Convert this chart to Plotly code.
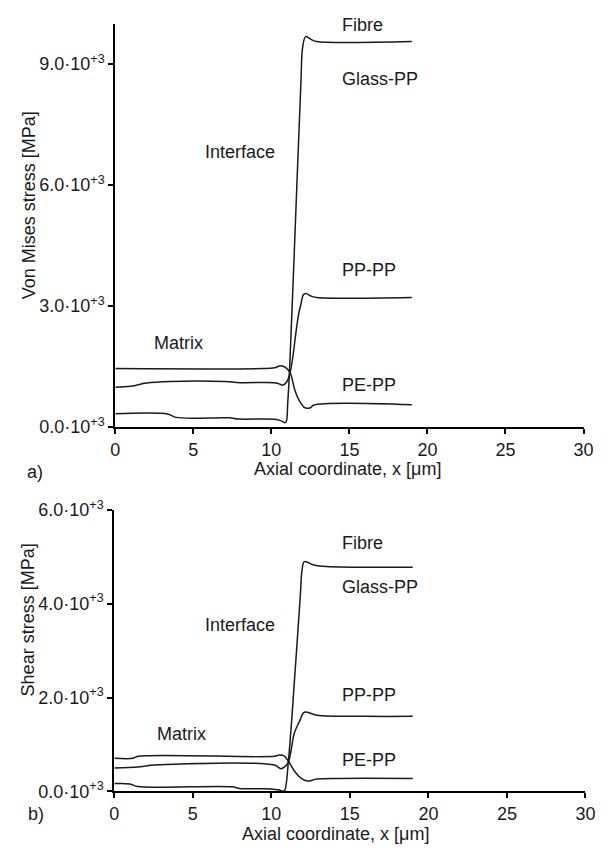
import plotly.graph_objects as go

W, H = 615, 857

# ---------------- data: (a) Von Mises stress ----------------
x_glass_a = [0, 3.4, 3.9, 7.3, 7.9, 10.2, 10.6, 10.85, 10.95, 11.05, 11.17, 11.58, 11.9, 12.0, 12.2, 12.6, 12.9, 19]
y_glass_a = [330, 320, 240, 230, 200, 195, 160, 110, 130, 600, 1430, 5450, 8600, 9400, 9680, 9600, 9560, 9560]

x_pp_a = [0, 1.0, 2.0, 3.5, 7.0, 8.0, 10.2, 10.5, 10.75, 11.0, 11.2, 11.4, 11.56, 11.75, 11.9, 12.05, 12.2, 12.6, 12.9, 19]
y_pp_a = [990, 1010, 1090, 1130, 1130, 1100, 1100, 1070, 1040, 1130, 1350, 1800, 2300, 2800, 3050, 3280, 3310, 3240, 3210, 3210]

x_pe_a = [0, 9.5, 10.2, 10.6, 10.9, 11.2, 11.48, 11.7, 11.9, 12.1, 12.3, 12.5, 12.73, 19]
y_pe_a = [1450, 1450, 1470, 1520, 1480, 1350, 950, 720, 587, 490, 466, 480, 547, 555]

# ---------------- data: (b) Shear stress ----------------
x_glass_b = [0, 1.0, 1.5, 7.5, 8.0, 10.0, 10.5, 10.75, 10.85, 11.1, 11.5, 11.85, 11.95, 12.1, 12.7, 13.5, 19]
y_glass_b = [167, 160, 104, 100, 62, 55, 30, 5, 20, 700, 2500, 4200, 4700, 4896, 4826, 4792, 4777]

x_pp_b = [0, 1.5, 2.5, 10.2, 10.6, 10.9, 11.1, 11.47, 11.8, 12.1, 12.9, 16, 19]
y_pp_b = [500, 520, 562, 562, 486, 540, 640, 1250, 1500, 1687, 1625, 1600, 1600]

x_pe_b = [0, 1.2, 1.5, 10.2, 10.5, 10.8, 11.1, 11.5, 11.9, 12.3, 12.9, 14.3, 19]
y_pe_b = [708, 708, 750, 750, 777, 760, 640, 420, 280, 222, 264, 277, 277]

x_ticks = [0, 5, 10, 15, 20, 25, 30]
ya_ticks = [0, 3000, 6000, 9000]
ya_text = ["0.0·10<sup>+3</sup>", "3.0·10<sup>+3</sup>", "6.0·10<sup>+3</sup>", "9.0·10<sup>+3</sup>"]
yb_ticks = [0, 2000, 4000, 6000]
yb_text = ["0.0·10<sup>+3</sup>", "2.0·10<sup>+3</sup>", "4.0·10<sup>+3</sup>", "6.0·10<sup>+3</sup>"]

labels_a = [("Fibre", 14.4, 9970), ("Glass-PP", 14.4, 8640), ("PP-PP", 14.4, 3890), ("PE-PP", 14.4, 1040)]
labels_b = [("Fibre", 14.35, 5290), ("Glass-PP", 14.35, 4360), ("PP-PP", 14.35, 2050), ("PE-PP", 14.35, 660)]
center_a = [("Interface", 7.97, 6830), ("Matrix", 4.06, 2076)]
center_b = [("Interface", 7.98, 3541), ("Matrix", 4.27, 1229)]

FONT = "Liberation Sans, Arial, Helvetica, sans-serif"
TXT = "#1a1a1a"
LINE = dict(color="#1a1a1a", width=1.5)

fig = go.Figure()
for xs, ys in [(x_glass_a, y_glass_a), (x_pp_a, y_pp_a), (x_pe_a, y_pe_a)]:
    fig.add_trace(go.Scatter(x=xs, y=ys, mode="lines", line=LINE, xaxis="x", yaxis="y",
                             line_shape="spline", showlegend=False, hoverinfo="skip"))
for xs, ys in [(x_glass_b, y_glass_b), (x_pp_b, y_pp_b), (x_pe_b, y_pe_b)]:
    fig.add_trace(go.Scatter(x=xs, y=ys, mode="lines", line=LINE, xaxis="x2", yaxis="y2",
                             line_shape="spline", showlegend=False, hoverinfo="skip"))

def px(v):
    return v / W

def py(v):
    return 1 - v / H

axis_common = dict(showgrid=False, zeroline=False, showline=True, linecolor="black", linewidth=2,
                   ticks="outside", ticklen=5, tickwidth=1.5, tickcolor="black",
                   tickfont=dict(family=FONT, size=18, color=TXT))

fig.update_layout(
    width=W, height=H,
    margin=dict(l=0, r=0, t=0, b=0),
    paper_bgcolor="white", plot_bgcolor="white",
    font=dict(family=FONT, size=18, color=TXT),
    xaxis=dict(domain=[px(113), px(593)], range=[0, 30], tickvals=x_ticks, anchor="y", **axis_common),
    yaxis=dict(domain=[py(426), py(12)], range=[0, 10000], tickvals=ya_ticks, ticktext=ya_text, anchor="x", **axis_common),
    xaxis2=dict(domain=[px(112), px(595)], range=[0, 30], tickvals=x_ticks, anchor="y2", **axis_common),
    yaxis2=dict(domain=[py(800), py(511)], range=[0, 6000], tickvals=yb_ticks, ticktext=yb_text, anchor="x2", **axis_common),
)

ann = []
for t, x, y in labels_a + center_a:
    xa = "left" if t not in ("Interface", "Matrix") else "center"
    ann.append(dict(text=t, x=x, y=y, xref="x", yref="y", xanchor=xa, yanchor="middle", showarrow=False,
                    font=dict(family=FONT, size=18, color=TXT)))
for t, x, y in labels_b + center_b:
    xa = "left" if t not in ("Interface", "Matrix") else "center"
    ann.append(dict(text=t, x=x, y=y, xref="x2", yref="y2", xanchor=xa, yanchor="middle", showarrow=False,
                    font=dict(family=FONT, size=18, color=TXT)))

# axis titles and panel letters (paper coordinates)
paper_text = [
    ("Von Mises stress [MPa]", 25, 198, -90),
    ("Shear stress [MPa]", 24, 624, -90),
    ("Axial coordinate, x [μm]", 351, 469, 0),
    ("Axial coordinate, x [μm]", 339, 844, 0),
    ("a)", 31, 472, 0),
    ("b)", 32, 823, 0),
]
for t, x, y, ang in paper_text:
    ann.append(dict(text=t, x=px(x), y=py(y), xref="paper", yref="paper", xanchor="center", yanchor="middle",
                    showarrow=False, textangle=ang, font=dict(family=FONT, size=18, color=TXT)))

fig.update_layout(annotations=ann)
fig.write_html("out.html")
